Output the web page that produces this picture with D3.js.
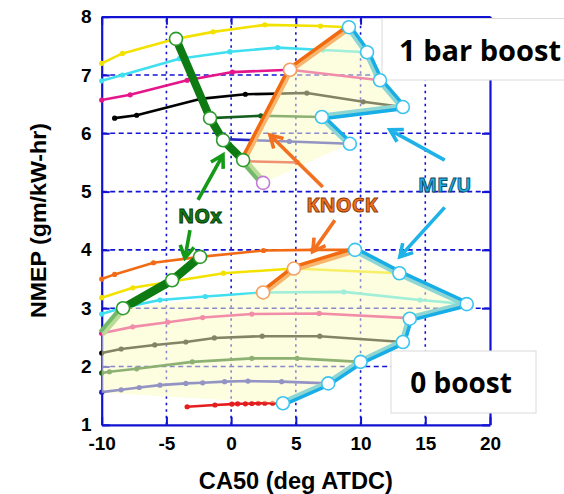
<!DOCTYPE html>
<html><head><meta charset="utf-8">
<script src="https://cdn.jsdelivr.net/npm/d3@7"></script>
<style>body{margin:0;background:#fff;} svg{display:block;}</style>
</head><body>
<svg id="chart" width="564" height="494"></svg>
<script>
// ---------- data ----------
const X_TICKS = [-10, -5, 0, 5, 10, 15, 20];
const Y_TICKS = [1, 2, 3, 4, 5, 6, 7, 8];
const X_LABEL = "CA50 (deg ATDC)";
const Y_LABEL = "NMEP (gm/kW-hr)";

// 1 bar boost sweeps  [CA50, NMEP]
const b1Yellow  = [[-10,7.2],[-8.4,7.37],[-4.26,7.62],[-1.4,7.74],[2.6,7.86],[6.9,7.84],[9.1,7.82]];
const b1Cyan    = [[-10,6.9],[-8.4,7.0],[-4.0,7.28],[-0.1,7.4],[3.6,7.47],[7.1,7.43],[10.5,7.39]];
const b1Magenta = [[-10,6.57],[-7.8,6.66],[-3.4,6.91],[0.1,7.05],[4.55,7.09],[11.5,6.91]];
const b1Black   = [[-9.0,6.26],[-7.3,6.31],[-2.4,6.59],[1.1,6.67],[5.85,6.69],[10.2,6.54],[13.27,6.45]];
const b1Green   = [[-1.63,6.26],[2.3,6.3],[7.01,6.28]];
const b1Blue    = [[-0.62,5.9],[4.5,5.86],[9.17,5.82]];
const b1Red     = [[0.93,5.52],[5.1,5.5]];
const b1Nox     = [[-4.26,7.62],[-1.63,6.26],[-0.62,5.88],[0.93,5.54]];
const b1NoxTail = [[0.93,5.54],[2.47,5.15]];
const b1Knock   = [[0.93,5.54],[4.55,7.09],[9.1,7.82]];
const b1Mfu     = [[9.1,7.82],[10.5,7.39],[11.5,6.91],[13.27,6.45],[7.01,6.28],[9.17,5.82]];

// 0 boost sweeps
const b0Orange  = [[-10,3.5],[-9.0,3.58],[-6.0,3.78],[-2.4,3.88],[2.5,3.99],[6.3,4.0],[9.57,4.0]];
const b0Yellow  = [[-10,3.18],[-7.6,3.35],[-0.6,3.6],[4.85,3.68],[13.0,3.6]];
const b0Cyan    = [[-10,2.9],[-8.35,3.01],[-5.5,3.14],[-2.0,3.2],[2.47,3.27],[8.7,3.28],[14.6,3.14],[18.2,3.07]];
const b0Magenta = [[-10,2.57],[-7.6,2.68],[-4.9,2.76],[-2.2,2.84],[1.6,2.9],[6.8,2.91],[13.8,2.83]];
const b0Black   = [[-10,2.23],[-8.5,2.3],[-5.9,2.37],[-3.5,2.42],[-1.3,2.49],[2.4,2.52],[6.85,2.52],[13.27,2.42]];
const b0Green   = [[-10,1.89],[-9.4,1.91],[-7.3,1.96],[-3.0,2.08],[1.6,2.14],[5.1,2.14],[10.0,2.08]];
const b0Blue    = [[-10,1.56],[-8.5,1.6],[-7.1,1.64],[-5.5,1.68],[-3.5,1.71],[-2.2,1.72],[-0.5,1.74],[1.3,1.75],[3.9,1.74],[7.5,1.71]];
const b0Red     = [[-3.4,1.31],[-1.25,1.34],[0.06,1.355],[0.5,1.36],[1.1,1.36],[1.6,1.365],[2.1,1.37],[2.6,1.37],[3.2,1.37],[4.0,1.37]];
const b0Nox     = [[-8.35,3.0],[-4.56,3.48],[-2.4,3.88]];
const b0NoxTail = [[-10,2.57],[-8.35,3.0]];
const b0Knock   = [[2.47,3.27],[4.85,3.68],[9.57,4.0]];
const b0Mfu     = [[9.57,4.0],[13.0,3.6],[18.2,3.07],[13.8,2.82],[13.27,2.42],[10.0,2.08],[7.5,1.71],[4.0,1.37]];
const b0ShadeCorner = [[-10,1.55]];

// annotations [from, to] in data units
const noxArrows   = [[[-2.56,4.86],[-0.63,5.63]], [[-3.18,4.34],[-3.57,3.86]]];
const knockArrows = [[[7.08,5.08],[3.0,5.97]], [[8.01,4.51],[6.31,3.97]]];
const mfuArrows   = [[[16.5,5.54],[12.26,6.06]], [[16.5,4.73],[13.03,3.88]]];
const noxLabelAt = [-2.41, 4.58];
const knockLabelAt = [8.56, 4.77];
const mfuLabelAt = [16.5, 5.11];

// ---------- chart ----------
const svg = d3.select("#chart");
const x = d3.scaleLinear().domain([-10, 20]).range([101.7, 490]);
const y = d3.scaleLinear().domain([1, 8]).range([424.8, 16.7]);
const AX = "#1212d2";
const line = d3.line().x(d => x(d[0])).y(d => y(d[1]));

// grid
const grid = svg.append("g");
grid.selectAll("line.gx").data(X_TICKS.slice(1, -1)).join("line")
  .attr("x1", d => x(d)).attr("x2", d => x(d)).attr("y1", y(1)).attr("y2", y(8))
  .attr("stroke", AX).attr("stroke-width", 1.6).attr("stroke-dasharray", "2.5,4");
grid.selectAll("line.gy").data(Y_TICKS.slice(1, -1)).join("line")
  .attr("y1", d => y(d)).attr("y2", d => y(d)).attr("x1", x(-10)).attr("x2", x(20))
  .attr("stroke", AX).attr("stroke-width", 1.6).attr("stroke-dasharray", "5,3.5");

// axes
function styleAxis(g) {
  g.select(".domain").attr("stroke", AX).attr("stroke-width", 2.2);
  g.selectAll(".tick line").attr("stroke", AX).attr("stroke-width", 2);
  g.selectAll(".tick text").attr("fill", "#000")
    .style("font-family", "'Liberation Sans', Arial, sans-serif")
    .style("font-weight", "bold").style("font-size", "19px");
}
svg.append("g").attr("transform", `translate(0,${y(1)})`)
  .call(d3.axisBottom(x).tickValues(X_TICKS).tickSizeInner(-8).tickSizeOuter(0).tickPadding(11.5).tickFormat(d => String(d)))
  .call(styleAxis);
svg.append("g").attr("transform", `translate(0,${y(8)})`)
  .call(d3.axisTop(x).tickValues(X_TICKS).tickSizeInner(-8).tickSizeOuter(0).tickFormat(() => ""))
  .call(styleAxis);
svg.append("g").attr("transform", `translate(${x(-10)},0)`)
  .call(d3.axisLeft(y).tickValues(Y_TICKS).tickSizeInner(-8).tickSizeOuter(0).tickPadding(10).tickFormat(d => String(d)))
  .call(styleAxis);
svg.append("g").attr("transform", `translate(${x(20)},0)`)
  .call(d3.axisRight(y).tickValues(Y_TICKS).tickSizeInner(-8).tickSizeOuter(0).tickFormat(() => ""))
  .call(styleAxis);

// axis titles
svg.append("text").text(X_LABEL)
  .attr("x", (x(-10) + x(20)) / 2).attr("y", 489).attr("text-anchor", "middle")
  .attr("textLength", 194).attr("lengthAdjust", "spacingAndGlyphs")
  .style("font-family", "'Liberation Sans', Arial, sans-serif").style("font-weight", "bold").style("font-size", "24px");
svg.append("text").text(Y_LABEL)
  .attr("transform", "translate(46,220.5) rotate(-90)").attr("text-anchor", "middle")
  .attr("textLength", 195).attr("lengthAdjust", "spacingAndGlyphs")
  .style("font-family", "'Liberation Sans', Arial, sans-serif").style("font-weight", "bold").style("font-size", "22px");

// label boxes
svg.append("rect").attr("x", 382).attr("y", 18.5).attr("width", 200).attr("height", 61.5)
  .attr("fill", "#fff").attr("stroke", "#dadada").attr("stroke-width", 1);
svg.append("rect").attr("x", 391).attr("y", 351).attr("width", 145).attr("height", 62)
  .attr("fill", "#fff").attr("stroke", "#dadada").attr("stroke-width", 1);

// thin sweep lines
const thin = [
  [b1Yellow, "#f3e200"], [b1Cyan, "#3fdff0"], [b1Magenta, "#e6158a"], [b1Black, "#000"],
  [b1Green, "#155e1c"], [b1Blue, "#2424c4"], [b1Red, "#e41e1e"],
  [b0Orange, "#f26a14"], [b0Yellow, "#f3e200"], [b0Cyan, "#3fdff0"], [b0Magenta, "#e6158a"],
  [b0Black, "#000"], [b0Green, "#155e1c"], [b0Blue, "#2424c4"], [b0Red, "#e41e1e"]
];
const gThin = svg.append("g");
thin.forEach(([pts, c]) => {
  gThin.append("path").attr("d", line(pts)).attr("fill", "none").attr("stroke", c)
    .attr("stroke-width", 2.6).attr("stroke-linejoin", "round");
  gThin.selectAll(null).data(pts).join("circle")
    .attr("cx", d => x(d[0])).attr("cy", d => y(d[1])).attr("r", 2.6).attr("fill", c);
});

// thick limit lines
const thick = [
  [b1Nox, "#0e7a12", 8], [b1NoxTail, "#74b86a", 8], [b1Knock, "#f26a10", 7], [b1Mfu, "#17ade6", 7],
  [b0NoxTail, "#74b86a", 8], [b0Nox, "#0e7a12", 8.5], [b0Knock, "#f26a10", 7], [b0Mfu, "#17ade6", 7]
];
const gThick = svg.append("g");
thick.forEach(([pts, c, w]) => {
  gThick.append("path").attr("d", line(pts)).attr("fill", "none").attr("stroke", c)
    .attr("stroke-width", w).attr("stroke-linejoin", "round");
});

// shaded operating regions
const shadeTop = b1Knock.concat(b1Mfu.slice(1), b1NoxTail.slice(1));
const shadeBottom = b0NoxTail.concat(b0Knock, b0Mfu.slice(1), b0ShadeCorner);
svg.append("g").selectAll("path").data([shadeTop, shadeBottom]).join("path")
  .attr("d", d => line(d) + "Z").attr("fill", "rgb(251,251,196)").attr("fill-opacity", 0.52);

// hollow markers
const markers = [
  [b1Nox, "#2a9a2a"], [b1NoxTail.slice(1), "#c47ad6"], [b1Knock.slice(1, 2), "#f4a060"], [b1Mfu, "#3cc4f0"],
  [b0Nox, "#2a9a2a"], [b0Knock.slice(0, 2), "#f4a060"], [b0Mfu, "#3cc4f0"]
];
const gMk = svg.append("g");
markers.forEach(([pts, c]) => {
  gMk.selectAll(null).data(pts).join("circle")
    .attr("cx", d => x(d[0])).attr("cy", d => y(d[1])).attr("r", 6.5)
    .attr("fill", "#fff").attr("stroke", c).attr("stroke-width", 1.6);
});

// annotation arrows
function arrow(g, seg, c) {
  const x1 = x(seg[0][0]), y1 = y(seg[0][1]), x2 = x(seg[1][0]), y2 = y(seg[1][1]);
  const a = Math.atan2(y2 - y1, x2 - x1), L = 14, h = Math.PI / 6;
  const p = `M${x1},${y1}L${x2},${y2}M${x2 - L * Math.cos(a - h)},${y2 - L * Math.sin(a - h)}L${x2},${y2}L${x2 - L * Math.cos(a + h)},${y2 - L * Math.sin(a + h)}`;
  g.append("path").attr("d", p).attr("fill", "none").attr("stroke", c).attr("stroke-width", 3.6)
    .attr("stroke-linejoin", "miter");
}
const gAn = svg.append("g");
noxArrows.forEach(s => arrow(gAn, s, "#159a18"));
knockArrows.forEach(s => arrow(gAn, s, "#f27020"));
mfuArrows.forEach(s => arrow(gAn, s, "#1eb2e8"));

function label(txt, at, fill, stroke) {
  gAn.append("text").text(txt).attr("x", x(at[0])).attr("y", y(at[1])).attr("dy", "0.36em")
    .attr("text-anchor", "middle").attr("fill", fill).attr("stroke", stroke).attr("stroke-width", 0.9)
    .style("font-family", "'Open Sans', sans-serif").style("font-weight", "bold").style("font-size", "20px");
}
label("NOx", noxLabelAt, "#0f7a12", "#063a08");
label("KNOCK", knockLabelAt, "#f27020", "#8a3a08");
label("MF/U", mfuLabelAt, "#1eb2e8", "#0c4a66");

// box texts
svg.append("text").text("1 bar boost").attr("x", 480).attr("y", 61).attr("text-anchor", "middle")
  .style("font-family", "'Open Sans', sans-serif").style("font-weight", "bold").style("font-size", "29px");
svg.append("text").text("0 boost").attr("x", 461).attr("y", 393).attr("text-anchor", "middle")
  .style("font-family", "'Open Sans', sans-serif").style("font-weight", "bold").style("font-size", "28px");
</script>
</body></html>
